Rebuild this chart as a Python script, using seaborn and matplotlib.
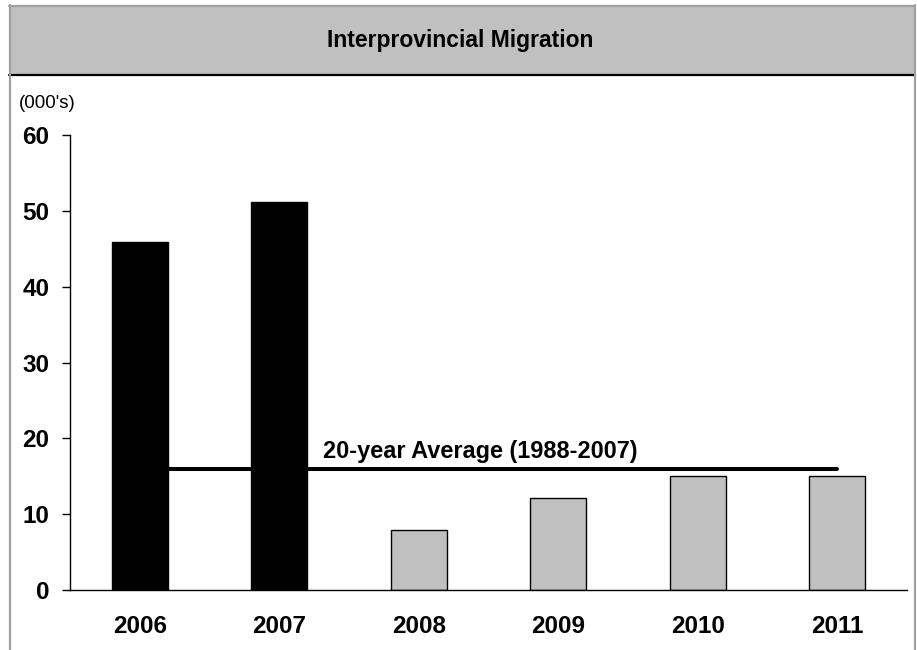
import matplotlib
matplotlib.use("Agg")
import matplotlib.pyplot as plt
from matplotlib.patches import Rectangle
from matplotlib.lines import Line2D
import seaborn as sns
import pandas as pd

# Interprovincial migration, thousands of people
years = ["2006", "2007", "2008", "2009", "2010", "2011"]
migration = [45.9, 51.2, 7.9, 12.1, 15.0, 15.0]
bar_colors = ["#000000", "#000000", "#C0C0C0", "#C0C0C0", "#C0C0C0", "#C0C0C0"]
average_value = 16.0
average_label = "20-year Average (1988-2007)"
y_ticks = [0, 10, 20, 30, 40, 50, 60]
title = "Interprovincial Migration"
unit_label = "(000's)"

sns.set_style("white")
plt.rcParams["font.family"] = ["Liberation Sans", "DejaVu Sans"]
plt.rcParams["text.color"] = "black"
plt.rcParams["xtick.color"] = "black"
plt.rcParams["ytick.color"] = "black"

W, H = 917, 650
fig = plt.figure(figsize=(W / 100, H / 100), dpi=100)

# header band and frame
fig.patches.append(Rectangle((9 / W, 1 - 75 / H), 906 / W, 70 / H, transform=fig.transFigure,
                             facecolor="#C0C0C0", edgecolor="none", zorder=0))
fig.lines.append(Line2D([9 / W, 915 / W], [1 - 5.5 / H, 1 - 5.5 / H], transform=fig.transFigure,
                        color="#A0A0A0", lw=1.6))
fig.lines.append(Line2D([9 / W, 915 / W], [1 - 75 / H, 1 - 75 / H], transform=fig.transFigure,
                        color="black", lw=1.6))
for xp in (9.5, 915):
    fig.lines.append(Line2D([xp / W, xp / W], [0, 1 - 5 / H], transform=fig.transFigure,
                            color="#A0A0A0", lw=1.6))
fig.text(460 / W, 1 - 40 / H, title, ha="center", va="center", fontsize=16.5,
         fontweight="bold", color="black")
fig.text(19 / W, 1 - 103 / H, unit_label, ha="left", va="center", fontsize=13.5, color="black")

ax = fig.add_axes([70 / W, 60 / H, 837 / W, 455 / H])
df = pd.DataFrame({"year": years, "value": migration})
sns.barplot(data=df, x="year", y="value", hue="year", order=years, hue_order=years,
            palette=dict(zip(years, bar_colors)), saturation=1, width=0.4,
            edgecolor="black", linewidth=1, legend=False, ax=ax, zorder=2)

# long-run average line
sns.lineplot(x=[0, len(years) - 1], y=[average_value, average_value], color="black",
             lw=2.9, solid_capstyle="round", ax=ax, zorder=1)
ax.text(1.313, average_value + 1.35, average_label, ha="left", va="baseline",
        fontsize=16.9, fontweight="bold", color="black")

ax.set_xlim(-0.5, len(years) - 0.5)
ax.set_ylim(0, 60)
ax.set_yticks(y_ticks)
ax.set_yticklabels([str(t) for t in y_ticks], fontsize=17.5, fontweight="bold")
ax.set_xticks(range(len(years)))
ax.set_xticklabels(years, fontsize=17.5, fontweight="bold")
ax.set_xticks([i - 0.5 for i in range(len(years) + 1)], minor=True)
ax.tick_params(axis="x", which="major", length=0, pad=18)
ax.tick_params(axis="x", which="minor", direction="inout", length=11.5, width=1, color="black")
ax.tick_params(axis="y", which="major", direction="out", length=5.8, width=1, pad=9, color="black",
               left=True)
ax.set_xlabel("")
ax.set_ylabel("")
for s in ("top", "right"):
    ax.spines[s].set_visible(False)
for s in ("left", "bottom"):
    ax.spines[s].set_color("black")
    ax.spines[s].set_linewidth(1)
ax.patch.set_alpha(0)

fig.savefig("out.png", dpi=100)
